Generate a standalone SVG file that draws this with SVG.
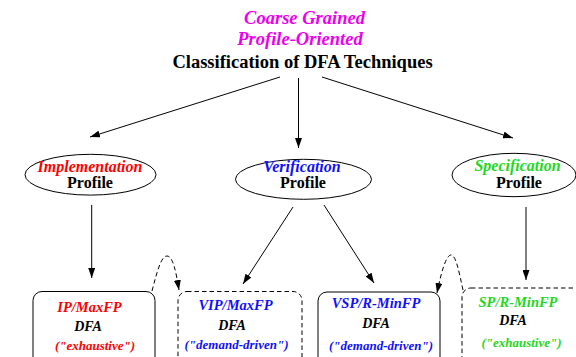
<svg xmlns="http://www.w3.org/2000/svg" width="576" height="357" viewBox="0 0 576 357" font-family="'Liberation Serif', 'Times New Roman', Times, serif">
<style>
text { font-family: 'Liberation Serif', 'Times New Roman', Times, serif; font-weight: bold; text-anchor: middle; }
.it { font-style: italic; }
.t1 { font-size: 18.5px; }
.t2 { font-size: 16px; }
.t3 { font-size: 14.5px; }
.t4 { font-size: 14px; }
.t5 { font-size: 13px; }
.mag { fill: #ee00ee; }
.red { fill: #ff0000; }
.blu { fill: #1010ff; }
.grn { fill: #1ed81e; }
.blk { fill: #000000; }
.shape { fill: #ffffff; stroke: #000000; stroke-width: 1; }
.dash { stroke-dasharray: 4.5,3; }
.conn { fill: none; stroke: #000000; stroke-width: 1; marker-end: url(#ah); }
</style>
<defs>
<marker id="ah" viewBox="0 0 10 7" refX="10" refY="3.5" markerWidth="10" markerHeight="7" markerUnits="userSpaceOnUse" orient="auto">
<path d="M0,0 L10,3.5 L0,7 z" fill="#000000"/>
</marker>
</defs>
<rect width="576" height="357" fill="#ffffff"/>

<g id="title">
<text class="t1 it mag" x="304.5" y="24">Coarse Grained</text>
<text class="t1 it mag" x="300" y="45">Profile-Oriented</text>
<text class="t1 blk" x="302.5" y="68">Classification of DFA Techniques</text>
</g>

<g id="impl-profile">
<ellipse class="shape" cx="90.5" cy="174.7" rx="65.5" ry="20.4"/>
<text class="t2 it red" x="90" y="171.5">Implementation</text>
<text class="t2 blk" x="90" y="188">Profile</text>
</g>

<g id="verif-profile">
<ellipse class="shape" cx="303.5" cy="179.3" rx="68" ry="20"/>
<text class="t2 it blu" x="302" y="171.5">Verification</text>
<text class="t2 blk" x="303" y="188">Profile</text>
</g>

<g id="spec-profile">
<ellipse class="shape" cx="514" cy="175" rx="62" ry="21.7"/>
<text class="t2 it grn" x="517.5" y="170.5">Specification</text>
<text class="t2 blk" x="519" y="188">Profile</text>
</g>

<g id="ip-maxfp">
<rect class="shape" x="33" y="291.5" width="122" height="80" rx="9" ry="9"/>
<text class="t3 it red" x="89.5" y="312">IP/MaxFP</text>
<text class="t4 it blk" x="88" y="331">DFA</text>
<text class="t5 it red" x="95" y="350">("exhaustive")</text>
</g>

<g id="vip-maxfp">
<rect class="shape dash" x="178" y="291.5" width="124" height="80" rx="9" ry="9"/>
<text class="t3 it blu" x="235.5" y="310">VIP/MaxFP</text>
<text class="t4 it blk" x="232" y="330">DFA</text>
<text class="t5 it blu" x="236.5" y="349">("demand-driven")</text>
</g>

<g id="vsp-rminfp">
<rect class="shape" x="318" y="292" width="122" height="80" rx="9" ry="9"/>
<text class="t3 it blu" x="376" y="308">VSP/R-MinFP</text>
<text class="t4 it blk" x="376" y="328">DFA</text>
<text class="t5 it blu" x="381" y="350">("demand-driven")</text>
</g>

<g id="sp-rminfp">
<rect class="shape dash" x="462" y="288" width="124" height="84" rx="9" ry="9"/>
<text class="t3 it grn" x="518" y="307">SP/R-MinFP</text>
<text class="t4 it blk" x="513" y="325">DFA</text>
<text class="t5 it grn" x="521.5" y="347">("exhaustive")</text>
</g>

<g id="connectors">
<line class="conn" x1="280" y1="77" x2="90" y2="137"/>
<line class="conn" x1="298.5" y1="78" x2="298.5" y2="148"/>
<line class="conn" x1="322" y1="77" x2="513" y2="138"/>
<line class="conn" x1="91.7" y1="205" x2="91.7" y2="278"/>
<line class="conn" x1="293" y1="207" x2="243" y2="284"/>
<line class="conn" x1="324" y1="205" x2="374" y2="283"/>
<line class="conn" x1="526" y1="207" x2="526" y2="280"/>
<path class="conn dash" d="M152,291 C157,272 161,256 167,256 C173,256 176,272 179,290"/>
<path class="conn dash" d="M463,290 C459,272 456,255 451,255 C446,255 441,273 437,293"/>
</g>
</svg>
